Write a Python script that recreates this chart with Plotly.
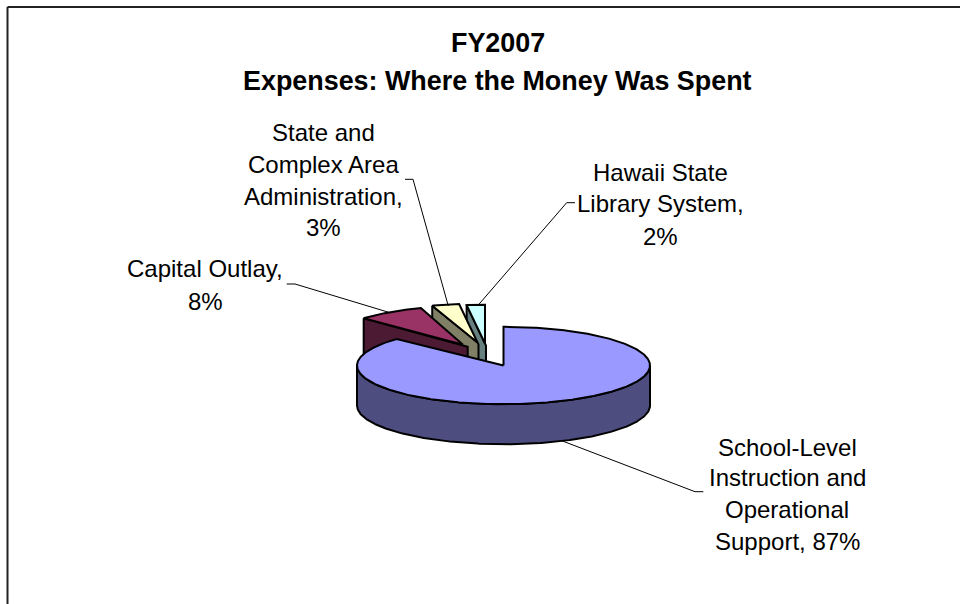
import math
import plotly.graph_objects as go

# ---- data ----
categories = ["School-Level Instruction and Operational Support", "Capital Outlay",
              "State and Complex Area Administration", "Hawaii State Library System"]
values = [87, 8, 3, 2]
label_lines = [
    ["School-Level", "Instruction and", "Operational", "Support, 87%"],
    ["Capital Outlay,", "8%"],
    ["State and", "Complex Area", "Administration,", "3%"],
    ["Hawaii State", "Library System,", "2%"],
]
title_lines = ["FY2007", "Expenses: Where the Money Was Spent"]

# ---- style / geometry ----
top_colors = ["#9999FF", "#993366", "#FFFFCC", "#CCFFFF"]
wall_colors = ["#4D4D80", "#4D1A33", "#808066", "#668080"]
CX, CY, RX, RY, DEPTH = 503.5, 365.5, 146.5, 38.7, 40
pull = [(0, 0), (-40.5, -20.7), (-26, -23), (-18.5, -22)]
rx_scale = [1, 0.93, 1, 1]
label_xy = [
    (787, [447, 477.5, 509, 541]),
    (205, [268, 301.5]),
    (323, [132, 164, 196, 227.5]),
    (660, [172, 203.5, 236]),
]
leaders = [
    [(703.3, 491.7), (695, 491.7), (561.7, 440.7)],
    [(286.7, 284), (295, 284), (390, 312.7)],
    [(405, 179.3), (413, 179.3), (448.3, 306)],
    [(575, 202.7), (566.7, 202.7), (478.3, 305)],
]
FONT = "Liberation Sans, Arial, sans-serif"
LW = 2


def arc(a0, a1, cx, cy, rx, ry, dy=0):
    n = max(2, int(abs(a1 - a0) * 2))
    xs, ys = [], []
    for i in range(n + 1):
        a = math.radians(a0 + (a1 - a0) * i / n)
        xs.append(cx + rx * math.sin(a))
        ys.append(cy - ry * math.cos(a) + dy)
    return xs, ys


fig = go.Figure()


def poly(xs, ys, fill, width=LW):
    fig.add_trace(go.Scatter(x=xs + xs[:1], y=ys + ys[:1], mode="lines", fill="toself",
                             fillcolor=fill, line=dict(color="black", width=width),
                             hoverinfo="skip", showlegend=False))


# angular extents, clockwise from 12 o'clock, from the values
total = sum(values)
starts, ends, acc = [], [], 0
for v in values:
    starts.append(acc / total * 360)
    acc += v
    ends.append(acc / total * 360)

# exploded slices, back to front
for i in (3, 2, 1):
    cx, cy = CX + pull[i][0], CY + pull[i][1]
    rx = RX * rx_scale[i]
    ax, ay = arc(starts[i], ends[i], cx, cy, rx, RY)
    shear = 4.7 if i == 1 else 1
    poly([ax[0], cx, cx + shear, cx + shear, ax[0]],
         [ay[0], cy, cy + 2, cy + DEPTH, ay[0] + DEPTH], wall_colors[i])
    poly([cx] + ax, [cy] + ay, top_colors[i])

# main slice: outer wall then top
wx, wy = arc(90, 270, CX, CY, RX, RY)
bx, by = arc(270, 90, CX, CY, RX, RY, DEPTH)
poly(wx + bx, wy + by, wall_colors[0])
ax, ay = arc(starts[0], ends[0], CX, CY, RX, RY)
poly([CX] + ax, [CY] + ay, top_colors[0])

# leader lines
for pts in leaders:
    fig.add_trace(go.Scatter(x=[p[0] for p in pts], y=[p[1] for p in pts], mode="lines",
                             line=dict(color="black", width=1), hoverinfo="skip", showlegend=False))

# labels
annotations = []
for lines, (x, ys) in zip(label_lines, label_xy):
    for t, y in zip(lines, ys):
        annotations.append(dict(x=x, y=y, text=t, xref="x", yref="y", showarrow=False,
                                xanchor="center", yanchor="middle",
                                font=dict(family=FONT, size=24, color="black")))
for t, y in zip(title_lines, [43, 81]):
    annotations.append(dict(x=497.5, y=y, text=f"<b>{t}</b>", xref="x", yref="y", showarrow=False,
                            xanchor="center", yanchor="middle",
                            font=dict(family=FONT, size=26.9, color="black")))

shapes = [
    dict(type="line", xref="x", yref="y", x0=7.5, y0=7, x1=960, y1=7, line=dict(color="#222222", width=2)),
    dict(type="line", xref="x", yref="y", x0=7.5, y0=7, x1=7.5, y1=604, line=dict(color="#222222", width=2)),
]

fig.update_layout(
    width=960, height=604, autosize=False,
    margin=dict(l=0, r=0, t=0, b=0),
    paper_bgcolor="white", plot_bgcolor="white",
    xaxis=dict(range=[0, 960], visible=False, fixedrange=True),
    yaxis=dict(range=[604, 0], visible=False, fixedrange=True),
    annotations=annotations, shapes=shapes, showlegend=False,
)
fig.write_html("out.html", config={"displayModeBar": False},
               post_script="document.body.style.margin='0';document.body.style.overflow='hidden';")
